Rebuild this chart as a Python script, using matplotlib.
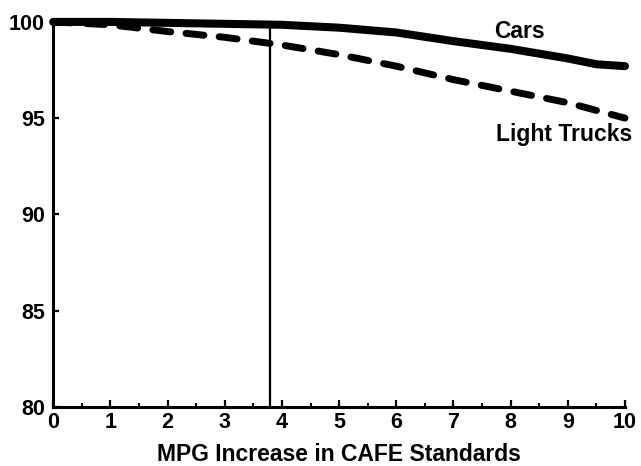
import matplotlib.pyplot as plt
import numpy as np
from matplotlib.ticker import MultipleLocator

plt.rcParams['font.family'] = ['Liberation Sans', 'DejaVu Sans']
plt.rcParams['font.weight'] = 'bold'

# values
mpg_increase = [0, 1, 2, 3, 4, 5, 6, 7, 8, 9, 9.5, 10]
cars = [100, 100, 99.95, 99.9, 99.85, 99.7, 99.45, 99.0, 98.6, 98.1, 97.8, 97.7]
trucks_x = [0, 1, 2, 3, 4, 5, 6, 7, 8, 9, 10]
light_trucks = [100, 99.85, 99.5, 99.2, 98.8, 98.3, 97.7, 97.0, 96.4, 95.8, 95.0]
marker_x = 3.8

fig = plt.figure(figsize=(6.41, 4.66), dpi=100)
ax = fig.add_axes([0.083, 0.127, 0.892, 0.826])

ax.plot(mpg_increase, cars, color='black', lw=5.8, solid_capstyle='round', clip_on=False)
ax.plot(trucks_x, light_trucks, color='black', lw=5.0, dashes=(2.6, 2.2),
        dash_capstyle='round', clip_on=False)
ax.axvline(marker_x, ymin=0, ymax=0.995, color='black', lw=1.6)

ax.set_xlim(0, 10)
ax.set_ylim(80, 100)
ax.set_xticks(range(0, 11))
ax.xaxis.set_minor_locator(MultipleLocator(0.5))
ax.set_yticks([80, 85, 90, 95, 100])

for s in ['top', 'right']:
    ax.spines[s].set_visible(False)
for s in ['left', 'bottom']:
    ax.spines[s].set_linewidth(2.2)

ax.tick_params(axis='x', which='major', direction='in', length=5, width=1.6,
               labelsize=15.5, pad=4)
ax.tick_params(axis='x', which='minor', direction='in', length=3, width=1.4)
ax.tick_params(axis='y', which='major', direction='in', length=4, width=1.6,
               labelsize=15.5, pad=6)

ax.set_xlabel('MPG Increase in CAFE Standards', fontsize=16.5, fontweight='bold', labelpad=7)

ax.text(8.16, 99.5, 'Cars', fontsize=16.5, fontweight='bold', ha='center', va='center')
ax.text(10.13, 94.15, 'Light Trucks', fontsize=16.5, fontweight='bold', ha='right', va='center')

fig.savefig('out.png', dpi=100)
